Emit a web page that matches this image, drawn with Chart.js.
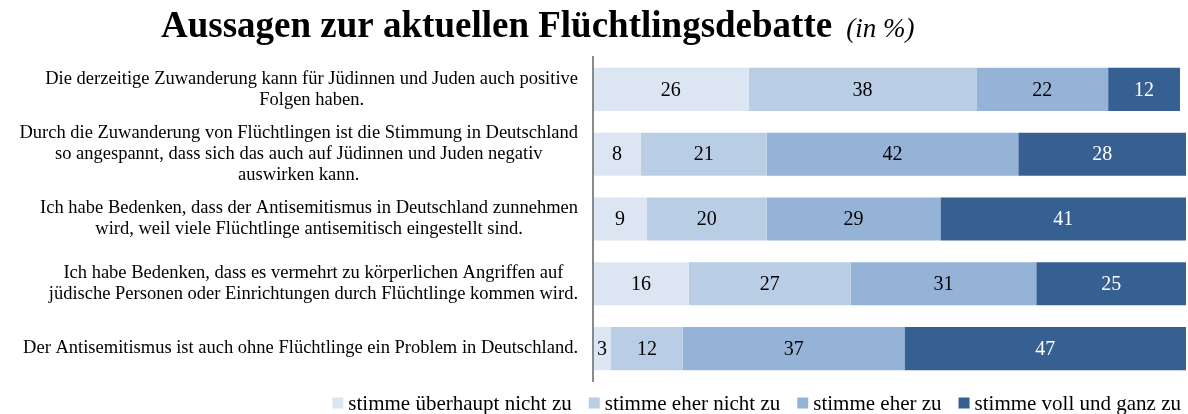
<!DOCTYPE html>
<html lang="de">
<head>
<meta charset="utf-8">
<title>Aussagen zur aktuellen Flüchtlingsdebatte</title>
<script src="https://cdn.jsdelivr.net/npm/chart.js@4/dist/chart.umd.min.js"></script>
<style>
  html, body { margin: 0; padding: 0; background: #ffffff; }
  #wrap { width: 1188px; height: 414px; position: relative; }
</style>
</head>
<body>
<div id="wrap"><canvas id="chart"></canvas></div>
<script>
// Statements (one per bar), split into the printed lines
const statements = [
  ['Die derzeitige Zuwanderung kann für Jüdinnen und Juden auch positive', 'Folgen haben.'],
  ['Durch die Zuwanderung von Flüchtlingen ist die Stimmung in Deutschland', 'so angespannt, dass sich das auch auf Jüdinnen und Juden negativ', 'auswirken kann.'],
  ['Ich habe Bedenken, dass der Antisemitismus in Deutschland zunnehmen', 'wird, weil viele Flüchtlinge antisemitisch eingestellt sind.'],
  ['Ich habe Bedenken, dass es vermehrt zu körperlichen Angriffen auf', 'jüdische Personen oder Einrichtungen durch Flüchtlinge kommen wird.'],
  ['Der Antisemitismus ist auch ohne Flüchtlinge ein Problem in Deutschland.']
];

// Answer categories
const answerLabels = ['stimme überhaupt nicht zu', 'stimme eher nicht zu', 'stimme eher zu', 'stimme voll und ganz zu'];

// Shares in percent, one value per statement
const ueberhauptNicht = [26, 8, 9, 16, 3];
const eherNicht       = [38, 21, 20, 27, 12];
const eherZu          = [22, 42, 29, 31, 37];
const vollUndGanz     = [12, 28, 41, 25, 47];

const mainTitle = 'Aussagen zur aktuellen Flüchtlingsdebatte';
const unitNote = '(in %)';

const colors = ['#dce6f2', '#b9cde5', '#95b3d7', '#376092'];
const labelColors = ['#000000', '#000000', '#000000', '#ffffff'];
const serif = '"Liberation Serif", "Times New Roman", "DejaVu Serif", serif';

const seriesValues = [ueberhauptNicht, eherNicht, eherZu, vollUndGanz];

// Title: bold heading followed by an italic unit note
const titlePlugin = {
  id: 'titleLine',
  afterDraw(chart) {
    const ctx = chart.ctx;
    ctx.save();
    ctx.fillStyle = '#000000';
    ctx.textBaseline = 'alphabetic';
    ctx.textAlign = 'left';
    ctx.font = 'bold 37px ' + serif;
    const x0 = 161;
    ctx.fillText(mainTitle, x0, 37);
    const w = ctx.measureText(mainTitle).width;
    ctx.font = 'italic 27px ' + serif;
    ctx.fillText(unitNote, x0 + w + 14, 37);
    ctx.restore();
  }
};

// Category labels: each statement block is right-aligned to the axis, its lines centred
const statementLabelPlugin = {
  id: 'statementLabels',
  afterDraw(chart) {
    const ctx = chart.ctx;
    const yScale = chart.scales.y;
    const rightEdge = 578;
    const lineH = 21;
    ctx.save();
    ctx.font = '18.5px ' + serif;
    ctx.fillStyle = '#000000';
    ctx.textAlign = 'center';
    ctx.textBaseline = 'middle';
    statements.forEach((lines, i) => {
      const yc = yScale.getPixelForValue(i);
      const widest = Math.max(...lines.map(l => ctx.measureText(l).width));
      const xc = rightEdge - widest / 2;
      const y0 = yc - (lines.length - 1) * lineH / 2;
      lines.forEach((l, k) => ctx.fillText(l, xc, y0 + k * lineH));
    });
    ctx.restore();
  }
};

// Value labels centred in each segment
const valueLabelPlugin = {
  id: 'valueLabels',
  afterDatasetsDraw(chart) {
    const ctx = chart.ctx;
    ctx.save();
    ctx.font = '20px ' + serif;
    ctx.textAlign = 'center';
    ctx.textBaseline = 'middle';
    chart.data.datasets.forEach((ds, di) => {
      const meta = chart.getDatasetMeta(di);
      ctx.fillStyle = labelColors[di];
      meta.data.forEach((bar, i) => {
        const v = ds.data[i];
        const cx = (bar.x + bar.base) / 2;
        ctx.fillText(String(v), cx, bar.y + 1);
      });
    });
    ctx.restore();
  }
};

// Legend row at the bottom: small squares followed by the answer text
const legendPlugin = {
  id: 'legendRow',
  afterDraw(chart) {
    const ctx = chart.ctx;
    const box = 11;
    const textGap = 5;
    const itemGap = 17;
    const yc = 404;
    ctx.save();
    ctx.font = '21px ' + serif;
    ctx.textBaseline = 'middle';
    ctx.textAlign = 'left';
    const widths = chart.data.datasets.map(ds => box + textGap + ctx.measureText(ds.label).width);
    const total = widths.reduce((a, b) => a + b, 0) + itemGap * (widths.length - 1);
    let x = 1181 - total;
    chart.data.datasets.forEach((ds, i) => {
      ctx.fillStyle = ds.backgroundColor;
      ctx.fillRect(x, yc - box / 2 - 1, box, box);
      ctx.fillStyle = '#000000';
      ctx.fillText(ds.label, x + box + textGap, yc);
      x += widths[i] + itemGap;
    });
    ctx.restore();
  }
};

new Chart(document.getElementById('chart'), {
  type: 'bar',
  data: {
    labels: statements.map(s => s.join(' ')),
    datasets: answerLabels.map((name, i) => ({
      label: name,
      data: seriesValues[i],
      backgroundColor: colors[i],
      borderWidth: 0,
      barPercentage: 0.665,
      categoryPercentage: 1.0
    }))
  },
  options: {
    indexAxis: 'y',
    responsive: true,
    maintainAspectRatio: false,
    animation: false,
    layout: { padding: { top: 57, right: 2, bottom: 33, left: 0 } },
    plugins: {
      legend: { display: false },
      title: { display: false },
      tooltip: { enabled: false }
    },
    scales: {
      x: {
        stacked: true,
        min: 0,
        max: 99,
        display: false
      },
      y: {
        stacked: true,
        grid: { display: false },
        ticks: { display: false },
        border: { display: true, color: '#8a8a8a', width: 2, z: 1 },
        afterFit(scale) { scale.width = 593; }
      }
    }
  },
  plugins: [titlePlugin, statementLabelPlugin, valueLabelPlugin, legendPlugin]
});
</script>
</body>
</html>
